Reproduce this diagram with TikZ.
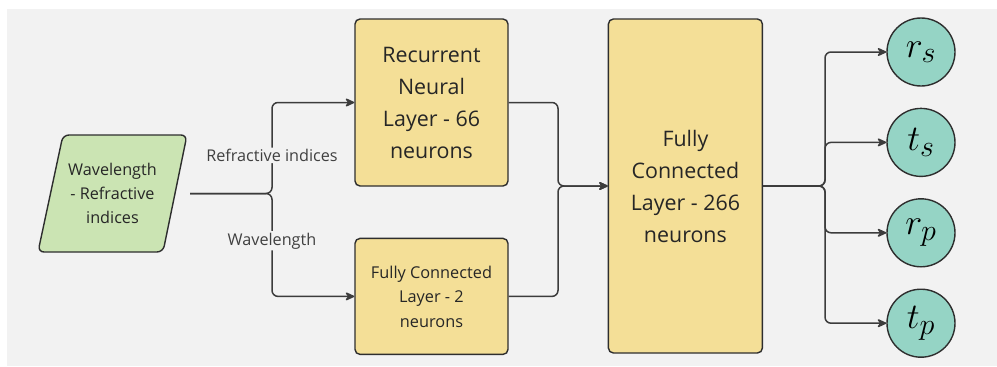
\documentclass[tikz,border=0pt]{standalone}
\usepackage{fontspec}
\setmainfont{Open Sans}
\usepackage{tikz}
\usetikzlibrary{positioning,shapes.geometric,arrows.meta}
\definecolor{bggrey}{HTML}{F2F2F2}
\definecolor{edgegrey}{HTML}{2E2E2E}
\definecolor{wiregrey}{HTML}{3C3C3C}
\definecolor{layeryellow}{HTML}{F4DF97}
\definecolor{inputgreen}{HTML}{CBE4B3}
\definecolor{outteal}{HTML}{95D4C5}
\newcommand{\outsym}[1]{\scalebox{1.45}{$#1$}}
\tikzstyle{layer} = [rectangle, draw=edgegrey, line width=1.4pt, fill=layeryellow, rounded corners=5pt, align=center, text=black!85]
\tikzstyle{output} = [circle, draw=edgegrey, line width=1.4pt, fill=outteal, minimum size=68pt, inner sep=0pt, font=\Huge]
\tikzstyle{arrow} = [line width=1.5pt, draw=wiregrey, rounded corners=6pt, -{Stealth[length=11pt, width=10pt, round=false]}]
\tikzstyle{wirelabel} = [fill=bggrey, inner sep=1.5pt, text=black!75, font=\fontsize{16.2}{19}\selectfont]

\begin{document}
\begin{tikzpicture}[x=1pt, y=-1pt]
	% canvas
	\useasboundingbox (0,0) rectangle (997,367);
	\fill[bggrey] (7,9) rectangle (997,366);

	% slanted input block
	\draw[draw=edgegrey, line width=1.4pt, fill=inputgreen, rounded corners=6pt] (63,135) -- (187,135) -- (163,252) -- (38,252) -- cycle;
	\node[minimum width=155pt, inner sep=0pt, align=center, font=\fontsize{16.2}{24}\selectfont, text=black!85] (inp) at (112.5,193.5) {Wavelength\\- Refractive\\indices};

	\node[layer, minimum width=153pt, minimum height=167pt, font=\fontsize{21.4}{32}\selectfont] (rnn) at (431.5,102.5) {Recurrent\\Neural\\Layer - 66\\neurons};
	\node[layer, minimum width=153pt, minimum height=116pt, below=51pt of rnn, font=\fontsize{16.3}{24.5}\selectfont] (fcsmall) {Fully Connected\\Layer - 2\\neurons};
	\node[layer, minimum width=154pt, minimum height=334pt, right=99pt of rnn.north east, anchor=north west, font=\fontsize{21.4}{32}\selectfont] (fcbig) {Fully\\Connected\\Layer - 266\\neurons};

	\node[output] (rs) at (921,52) {\outsym{r_s}};
	\node[output, below=21pt of rs] (ts) {\outsym{t_s}};
	\node[output, below=21pt of ts] (rp) {\outsym{r_p}};
	\node[output, below=21pt of rp] (tp) {\outsym{t_p}};

	\coordinate (split) at (272,193.5);
	\coordinate (merge) at (558,186);
	\coordinate (fan) at (825,186);

	% input split into the two branches
	\draw[arrow] (inp.east) -- (split) |- node[wirelabel, pos=0.21] {Refractive indices} (rnn.west);
	\draw[arrow] (inp.east) -- (split) |- node[wirelabel, pos=0.23] {Wavelength} (fcsmall.west);

	% branches merge into the dense layer
	\draw[arrow] (rnn.east) -| (merge) -- (fcbig.west);
	\draw[arrow] (fcsmall.east) -| (merge) -- (fcbig.west);

	% dense layer fans out to the outputs
	\draw[arrow] (fcbig.east) -- (fan) |- (rs.west);
	\draw[arrow] (fcbig.east) -- (fan) |- (ts.west);
	\draw[arrow] (fcbig.east) -- (fan) |- (rp.west);
	\draw[arrow] (fcbig.east) -- (fan) |- (tp.west);
\end{tikzpicture}
\end{document}
